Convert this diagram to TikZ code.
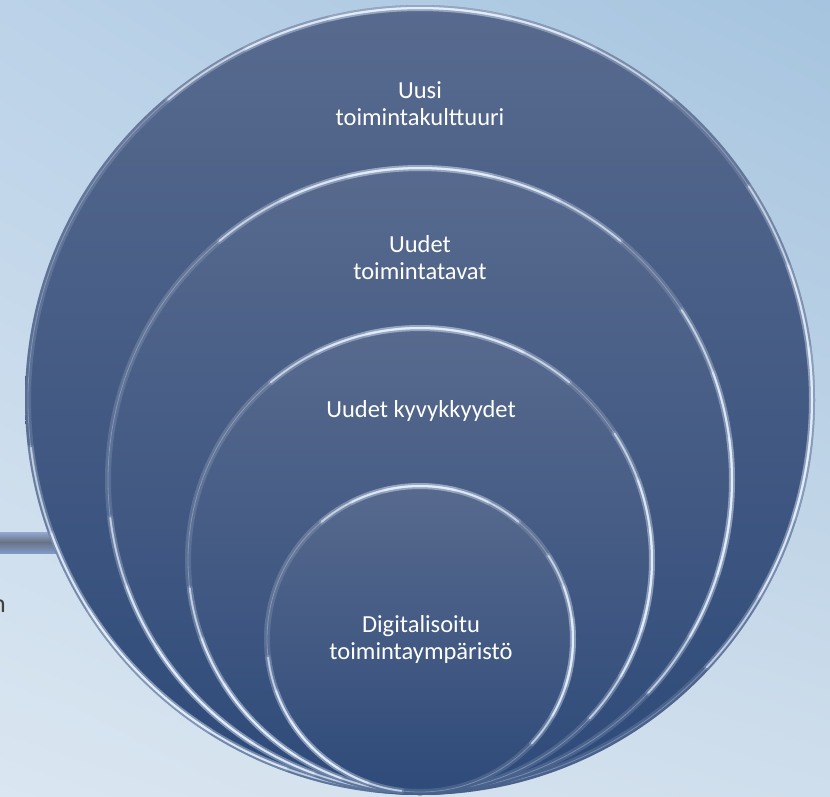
\documentclass[tikz,border=0pt]{standalone}
\usepackage{fontspec}
\setmainfont{Carlito}
\usetikzlibrary{shadings}

\definecolor{bgtl}{HTML}{BBD2E8}
\definecolor{bgtr}{HTML}{A6C4DF}
\definecolor{bgbl}{HTML}{DAE6F1}
\definecolor{bgbr}{HTML}{CFDEEC}
\definecolor{ringtop}{HTML}{586A8E}
\definecolor{ringmid}{HTML}{3C5581}
\definecolor{ringbot}{HTML}{2E4A79}
\definecolor{rimblue}{HTML}{E6F1FF}
\definecolor{barlight}{HTML}{93A9D2}
\definecolor{bargray}{HTML}{687284}
\definecolor{barblue}{HTML}{8099C8}
\definecolor{textgray}{HTML}{404040}

\tikzset{
  ring/.style={top color=ringtop, middle color=ringmid, bottom color=ringbot},
  glow/.style={draw=rimblue, line width=6pt, opacity=.14, line cap=round},
  rim/.style={draw=rimblue, line width=2pt, opacity=.62, line cap=round},
  ringlabel/.style={text=white, align=center, inner sep=0pt,
    font=\fontsize{24.5}{27}\selectfont}
}

\begin{document}
\begin{tikzpicture}[x=1pt,y=-1pt]
  \useasboundingbox (0,0) rectangle (830,796);
  \shade[upper left=bgtl, upper right=bgtr, lower left=bgbl, lower right=bgbr]
    (0,0) rectangle (830,796);

  \shade[top color=barlight, bottom color=bargray] (0,532) rectangle (80,542);
  \shade[top color=bargray, bottom color=barblue] (0,542) rectangle (80,553);
  \node[anchor=base east, inner sep=0pt, text=textgray,
    font=\fontsize{26}{30}\selectfont] (n) at (6,612) {n};

  \foreach \cy/\r in {400/395, 480/315, 560/235, 639/156} {
    \pgfmathsetmacro{\rr}{\r-3}
    \coordinate (c) at (420,\cy);
    \shade[ring] (c) circle[radius=\r];
    \draw[glow] (c) circle[radius=\rr];
    \draw[rimblue, line width=.8pt, opacity=.3] (c) circle[radius=\rr];
    \foreach \m/\w in {270/40, 5/38, 135/38} {
      \foreach \f in {1, .66, .33} {
        \pgfmathsetmacro{\a}{\m-\f*\w}
        \pgfmathsetmacro{\b}{\m+\f*\w}
        \draw[glow] (c) ++(\a:\rr) arc[start angle=\a, end angle=\b, radius=\rr];
        \draw[rim] (c) ++(\a:\rr) arc[start angle=\a, end angle=\b, radius=\rr];
      }
    }
  }

  \begin{scope}[every node/.style={ringlabel}]
    \node (kulttuuri) at (420,103.5) {Uusi\\toimintakulttuuri};
    \node (tavat)     at (420,258)   {Uudet\\toimintatavat};
    \node[anchor=base] (kyvyt) at (421,417) {Uudet kyvykkyydet};
    \node (ymparisto) at (421,639.5) {Digitalisoitu\\toimintaympäristö};
  \end{scope}

\end{tikzpicture}
\end{document}
